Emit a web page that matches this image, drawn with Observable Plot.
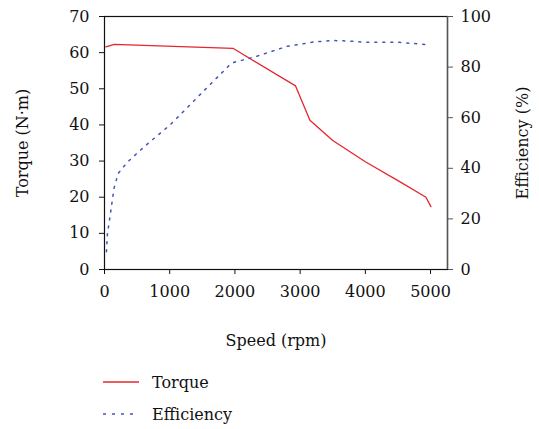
<!DOCTYPE html>
<html>
<head>
<meta charset="utf-8">
<script src="https://cdn.jsdelivr.net/npm/d3@7"></script>
<script src="https://cdn.jsdelivr.net/npm/@observablehq/plot@0.6"></script>
<style>
  body { margin: 0; background: #fff; font-family: "DejaVu Serif", serif; }
  #wrap { position: relative; width: 539px; height: 429px; }
  #legend { position: absolute; left: 103px; top: 366px; font-size: 16px; color: #111; }
  .row { display: flex; align-items: center; height: 32px; }
  .row svg { margin-right: 13px; }
</style>
</head>
<body>
<div id="wrap"><div id="chart"></div>
<div id="legend">
  <div class="row"><svg width="36" height="10"><line x1="0" x2="36" y1="5" y2="5" stroke="#e5262d" stroke-width="1.3"/></svg>Torque</div>
  <div class="row"><svg width="36" height="10"><line x1="0" x2="36" y1="5" y2="5" stroke="#4156b8" stroke-width="1.3" stroke-dasharray="3,6"/></svg>Efficiency</div>
</div>
</div>
<script>
const torqueSpeed = [20, 150, 1970, 2930, 3150, 3500, 4000, 4500, 4930, 5005];
const torqueValue = [61.6, 62.3, 61.2, 50.8, 41.3, 35.7, 29.8, 24.6, 20.0, 17.4];
const effSpeed = [30, 45, 85, 145, 210, 350, 630, 1000, 1500, 1940, 2000, 2300, 2800, 3200, 3500, 3750, 4000, 4500, 4750, 5000];
const effValue = [7, 14, 21, 32, 38, 42.4, 49, 57, 70, 81.4, 82, 84, 88.2, 89.9, 90.5, 90.3, 89.8, 89.8, 89.3, 88.8];
const xTicks = [0, 1000, 2000, 3000, 4000, 5000];
const torqueTicks = [0, 10, 20, 30, 40, 50, 60, 70];
const effTicks = [0, 20, 40, 60, 80, 100];

const ratio = 70 / 100;
const torque = torqueSpeed.map((s, i) => ({speed: s, value: torqueValue[i]}));
const eff = effSpeed.map((s, i) => ({speed: s, value: effValue[i]}));

const font = "DejaVu Serif";
const chart = Plot.plot({
  width: 539,
  height: 360,
  marginLeft: 104,
  marginRight: 92,
  marginTop: 16,
  marginBottom: 91,
  style: {fontFamily: font, fontSize: "16px", color: "#111", background: "white"},
  x: {domain: [0, 5260]},
  y: {domain: [0, 70]},
  marks: [
    Plot.frame({stroke: "#111", strokeWidth: 1.2}),
    Plot.ruleX([5260], {stroke: "#555", strokeWidth: 1.4}),
    Plot.axisX(xTicks, {tickSize: 5, tickPadding: 11, fontSize: 16, tickFormat: d => String(d), label: "Speed (rpm)", labelArrow: "none", labelAnchor: "center", labelOffset: 76}),
    Plot.axisY(torqueTicks, {anchor: "left", tickSize: 5, tickPadding: 10, fontSize: 16, label: "Torque (N·m)", labelArrow: "none", labelAnchor: "center", labelOffset: 88}),
    Plot.axisY(effTicks.map(v => v * ratio), {anchor: "right", tickSize: 5, tickPadding: 8, fontSize: 16, stroke: "#555", tickFormat: v => String(Math.round(v / ratio)), label: "Efficiency (%)", labelArrow: "none", labelAnchor: "center", labelOffset: 80}),
    Plot.line(torque, {x: "speed", y: "value", stroke: "#e5262d", strokeWidth: 1.3}),
    Plot.line(eff, {x: "speed", y: d => d.value * ratio, stroke: "#4156b8", strokeWidth: 1.5, strokeDasharray: "2,6"})
  ]
});
document.getElementById("chart").appendChild(chart);
</script>
</body>
</html>
